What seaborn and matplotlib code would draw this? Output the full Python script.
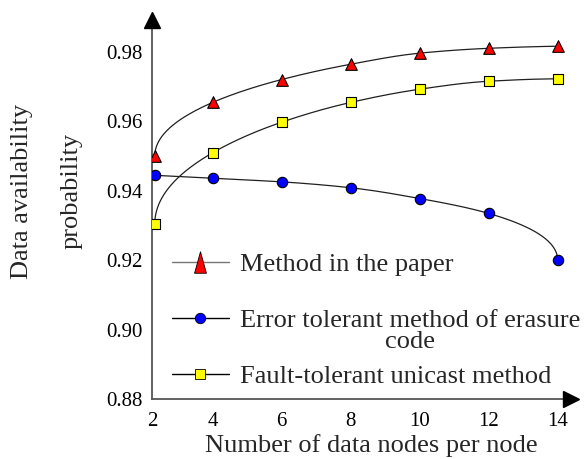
import numpy as np
import pandas as pd
import matplotlib
matplotlib.use("Agg")
import matplotlib.pyplot as plt
import seaborn as sns
from matplotlib.lines import Line2D

# ---------------- data ----------------
x_nodes = [2.32, 4, 6, 8, 10, 12, 14]
paper_method = [0.9500, 0.9655, 0.9721, 0.9765, 0.9797, 0.9811, 0.9817]
erasure_method = [0.9445, 0.9436, 0.9426, 0.9409, 0.9378, 0.9335, 0.9200]
unicast_method = [0.9304, 0.9510, 0.9598, 0.9655, 0.9693, 0.9716, 0.9723]
series_labels = ["Method in the paper",
                 "Error tolerant method of erasure",
                 "Fault-tolerant unicast method"]
xtick_pos = [2.24, 4, 6, 8, 10, 12, 14]
xtick_labels = ["2", "4", "6", "8", "10", "12", "14"]
ytick_pos = [0.88, 0.90, 0.92, 0.94, 0.96, 0.98]
ytick_labels = ["0.88", "0.90", "0.92", "0.94", "0.96", "0.98"]
x_label = "Number of data nodes per node"
y_label = "Data availability\nprobability"

sns.set_theme(style="white")
plt.rcParams["font.family"] = ["Liberation Serif", "DejaVu Serif"]


def smooth_curve(x, y, anchor, n=300):
    """Monotone cubic (PCHIP) drawn in sqrt-distance space from an anchor."""
    x = np.asarray(x, float)
    y = np.asarray(y, float)
    t = np.sqrt(np.abs(x - anchor))
    order = np.argsort(t)
    t, y, x = t[order], y[order], x[order]
    h = np.diff(t)
    d = np.diff(y) / h
    m = np.zeros_like(y)
    for k in range(1, len(t) - 1):
        if d[k - 1] * d[k] <= 0:
            m[k] = 0.0
        else:
            w1 = 2 * h[k] + h[k - 1]
            w2 = h[k] + 2 * h[k - 1]
            m[k] = (w1 + w2) / (w1 / d[k - 1] + w2 / d[k])

    def end_slope(h0, h1, d0, d1):
        s = ((2 * h0 + h1) * d0 - h0 * d1) / (h0 + h1)
        if np.sign(s) != np.sign(d0):
            s = 0.0
        elif np.sign(d0) != np.sign(d1) and abs(s) > abs(3 * d0):
            s = 3 * d0
        return s

    m[0] = end_slope(h[0], h[1], d[0], d[1])
    m[-1] = end_slope(h[-1], h[-2], d[-1], d[-2])
    tt = np.linspace(t[0], t[-1], n)
    idx = np.clip(np.searchsorted(t, tt) - 1, 0, len(t) - 2)
    hk = h[idx]
    s = (tt - t[idx]) / hk
    h00 = 2 * s**3 - 3 * s**2 + 1
    h10 = s**3 - 2 * s**2 + s
    h01 = -2 * s**3 + 3 * s**2
    h11 = s**3 - s**2
    yy = h00 * y[idx] + h10 * hk * m[idx] + h01 * y[idx + 1] + h11 * hk * m[idx + 1]
    xx = anchor + np.sign(x[-1] - anchor) * tt**2
    return xx, yy


fig = plt.figure(figsize=(5.85, 4.59), dpi=100)
ax = fig.add_axes([0.2598, 0.1307, 0.9769 - 0.2598, 0.9575 - 0.1307])

line_col = "#202020"
specs = [
    (paper_method, x_nodes[0], "^", "#ff0000", 70),
    (erasure_method, x_nodes[-1], "o", "#0000ff", 56),
    (unicast_method, x_nodes[0], "s", "#ffff00", 46),
]
for vals, anchor, mk, col, size in specs:
    xx, yy = smooth_curve(x_nodes, vals, anchor)
    sns.lineplot(data=pd.DataFrame({"x": xx, "y": yy}), x="x", y="y",
                 ax=ax, color=line_col, lw=0.9, sort=False,
                 estimator=None, zorder=2)
    sns.scatterplot(data=pd.DataFrame({"x": x_nodes, "y": vals}), x="x", y="y",
                    ax=ax, marker=mk, s=size, color=col, edgecolor="black",
                    linewidth=0.8, zorder=3)

ax.set_xlim(2.24, 14.40)
ax.set_ylim(0.88, 0.9894)
ax.set_xticks(xtick_pos)
ax.set_xticklabels(xtick_labels)
ax.set_yticks(ytick_pos)
ax.set_yticklabels(ytick_labels)
ax.tick_params(direction="in", length=3, width=0.8, color="#555555",
               labelsize=15, labelcolor="black")
ax.tick_params(axis="x", pad=9)
ax.tick_params(axis="y", pad=7)

for side in ["top", "right"]:
    ax.spines[side].set_visible(False)
for side in ["left", "bottom"]:
    ax.spines[side].set_color("#555555")
    ax.spines[side].set_linewidth(1.3)

# axis arrows
ax.plot(1, 0, marker=">", color="black", ms=12, transform=ax.transAxes,
        clip_on=False, zorder=5)
ax.plot(0, 1, marker="^", color="black", ms=12, transform=ax.transAxes,
        clip_on=False, zorder=5)

ax.set_xlabel(x_label, fontsize=19)
ax.xaxis.label.set_va("center")
ax.xaxis.set_label_coords(0.523, (399 - 445) / 379.5)
ax.set_ylabel(y_label, fontsize=19, linespacing=2.6, multialignment="center")
ax.yaxis.label.set_va("center")
ax.yaxis.set_label_coords((47 - 152) / 419.5, (399 - 191) / 379.5)

# legend
tall_tri = [(-0.55, -1.0), (0.55, -1.0), (0.0, 1.0), (-0.55, -1.0)]
handles = [
    Line2D([], [], color="#777777", lw=1.0, marker=tall_tri, ms=15.5,
           mfc="#ff0000", mec="black", mew=0.6),
    Line2D([], [], color="black", lw=1.0, marker="o", ms=7.5,
           mfc="#0000ff", mec="black", mew=0.6),
    Line2D([], [], color="black", lw=1.0, marker="s", ms=6.5,
           mfc="#ffff00", mec="black", mew=0.6),
]
leg = ax.legend(handles, series_labels, loc="upper left",
                bbox_to_anchor=((172 - 152) / 419.5, (399 - 253) / 379.5),
                frameon=False, fontsize=19, borderpad=0, borderaxespad=0,
                handlelength=2.16, handletextpad=0.4, labelspacing=1.22)
ax.text((410 - 152) / 419.5, (399 - 342) / 379.5, "code", fontsize=19,
        ha="center", va="center", transform=ax.transAxes)

fig.savefig("out.png", dpi=100)
